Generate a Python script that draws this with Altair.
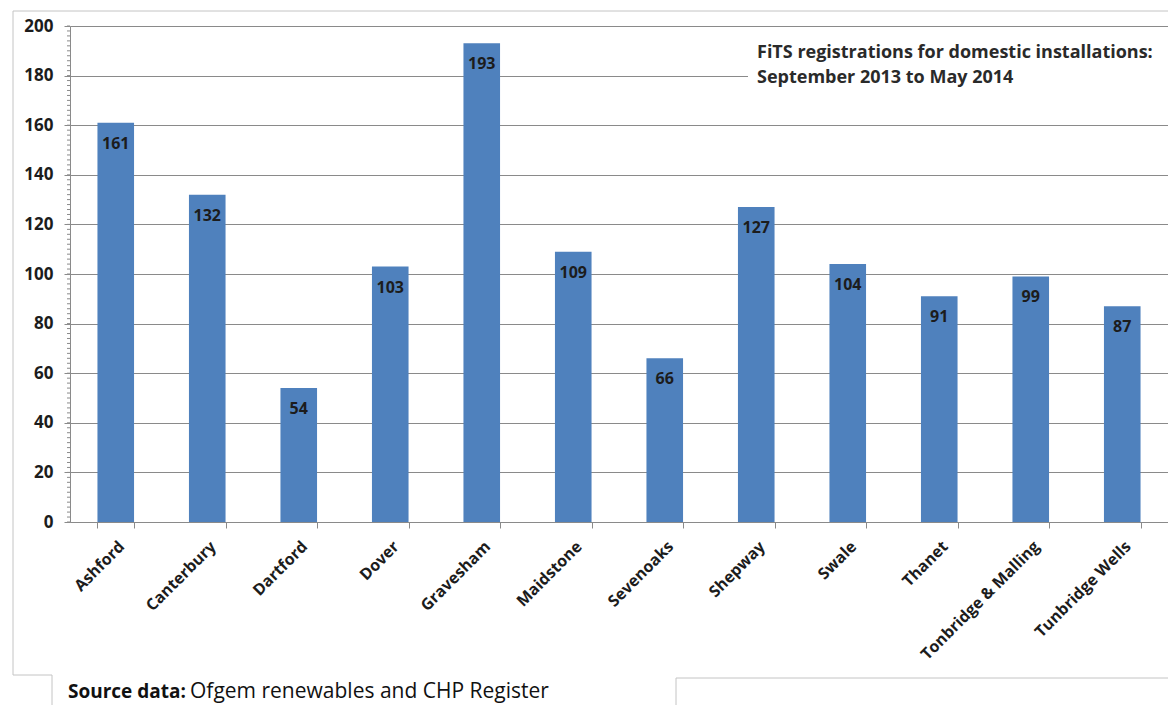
import altair as alt
import pandas as pd

# Feed-in tariff registrations per Kent district
districts = ["Ashford", "Canterbury", "Dartford", "Dover", "Gravesham", "Maidstone",
             "Sevenoaks", "Shepway", "Swale", "Thanet", "Tonbridge & Malling", "Tunbridge Wells"]
registrations = [161, 132, 54, 103, 193, 109, 66, 127, 104, 91, 99, 87]

y_major = list(range(0, 201, 20))
y_minor = list(range(0, 201, 2))

title_lines = ["FiTS registrations for domestic installations:", "September 2013 to May 2014"]
source_label = "Source data:"
source_text = "Ofgem renewables and CHP Register"

# plot-area geometry (pixels)
W, H = 1098, 496
LEFT, TOP = 70, 26

FONT = "Open Sans"
BLUE = "#4f81bd"
GRID = "#8a8a8a"
FRAME = "#c4c4c4"
INK = "#1c1c1c"

df = pd.DataFrame({"district": districts, "registrations": registrations})
minor = pd.DataFrame({"v": y_minor})
one = alt.Data(values=[{}])

y_scale = alt.Scale(domain=[0, 200], nice=False)

x_enc = alt.X(
    "district:N", sort=districts, title=None,
    scale=alt.Scale(paddingInner=0.6, paddingOuter=0.3),
    axis=alt.Axis(labelAngle=-45, labelFont=FONT, labelFontSize=16, labelFontWeight="bold",
                  labelColor=INK, labelPadding=10, tickBand="extent", tickSize=6,
                  tickColor=GRID, domainColor=GRID, grid=False),
)
y_enc = alt.Y(
    "registrations:Q", title=None, scale=y_scale,
    axis=alt.Axis(values=y_major, labelFont=FONT, labelFontSize=17, labelFontWeight="bold",
                  labelColor=INK, labelPadding=11, tickSize=6, tickColor=GRID,
                  domainColor=GRID, gridColor=GRID, gridWidth=1),
)

bars = alt.Chart(df).mark_bar(color=BLUE).encode(x=x_enc, y=y_enc)

values = alt.Chart(df).mark_text(
    baseline="middle", dy=21, font=FONT, fontSize=16, fontWeight="bold", color=INK
).encode(x=alt.X("district:N", sort=districts), y=alt.Y("registrations:Q"),
         text="registrations:Q")

minor_ticks = alt.Chart(minor).mark_rule(color=GRID, strokeWidth=1).encode(
    y=alt.Y("v:Q", title=None), x=alt.value(-3), x2=alt.value(0)
)

# white panel behind the in-plot caption
caption_box = alt.Chart(one).mark_rect(color="white").encode(
    x=alt.value(678), x2=alt.value(W), y=alt.value(5), y2=alt.value(88)
)
caption = [
    alt.Chart(one).mark_text(align="left", baseline="alphabetic", font=FONT, fontSize=18,
                             fontWeight="bold", color="#2a2a2a").encode(
        x=alt.value(687), y=alt.value(yy), text=alt.value(t))
    for t, yy in zip(title_lines, [32, 57])
]

# frame lines of the surrounding layout
def line(x1, y1, x2, y2):
    return alt.Chart(one).mark_rule(color=FRAME, strokeWidth=1).encode(
        x=alt.value(x1), y=alt.value(y1), x2=alt.value(x2), y2=alt.value(y2))

frame = [
    line(-57, -15, W, -15),
    line(-57, -15, -57, 649),
    line(-57, 649, -18, 649),
    line(-18, 649, -18, 679),
    line(606, 652, W, 652),
    line(606, 652, 606, 679),
]

source = [
    alt.Chart(one).mark_text(align="left", baseline="alphabetic", font=FONT, fontSize=19,
                             fontWeight="bold", color="#111111").encode(
        x=alt.value(-2), y=alt.value(672), text=alt.value(source_label)),
    alt.Chart(one).mark_text(align="left", baseline="alphabetic", font=FONT, fontSize=21,
                             color="#111111").encode(
        x=alt.value(120), y=alt.value(672), text=alt.value(source_text)),
]

chart = alt.layer(
    bars, values, minor_ticks, caption_box, *caption, *frame, *source
).properties(
    width=W, height=H,
    autosize=alt.AutoSizeParams(type="none"),
    padding={"left": LEFT, "top": TOP, "right": 0, "bottom": 705 - TOP - H},
    background="white",
).configure_view(stroke=None)

chart.save("out.html", embed_options={"renderer": "svg", "actions": False})
